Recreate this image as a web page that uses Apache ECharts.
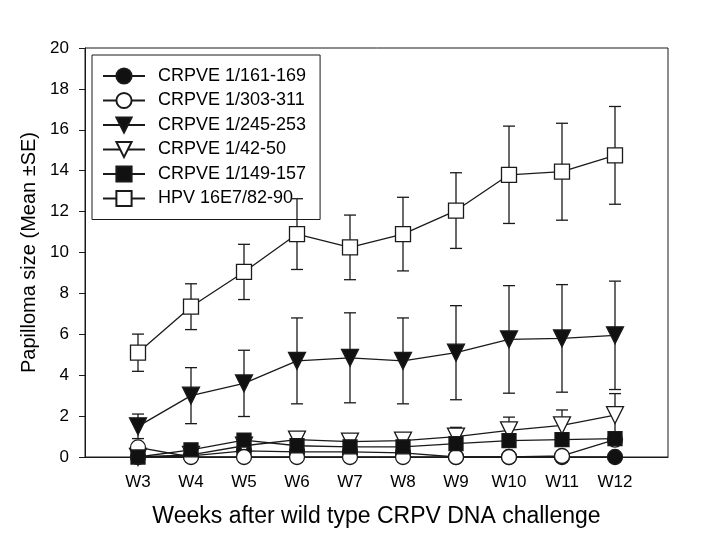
<!DOCTYPE html>
<html>
<head>
<meta charset="UTF-8">
<title>papilloma_size_chart</title>
<script src="https://cdn.jsdelivr.net/npm/echarts@6/dist/echarts.min.js"></script>
</head>
<body style="margin:0">
<div id="mainChart" style="width:702px;height:549px;"></div>
<script>
// weeks after challenge (x = week number)
let weeks = [3, 4, 5, 6, 7, 8, 9, 10, 11, 12]

let crp161 = [0, 0.05, 0.3, 0.25, 0.25, 0.2, 0, 0, 0, 0]
let crp303 = [0.47, 0, 0, 0, 0, 0, 0, 0, 0.05, 0.85]
let crp245 = [1.5, 3.0, 3.6, 4.7, 4.85, 4.7, 5.1, 5.75, 5.8, 5.95]
let crp245Se = [0.6, 1.37, 1.62, 2.1, 2.2, 2.1, 2.3, 2.63, 2.63, 2.65]
let crp42 = [0, 0.1, 0.55, 0.85, 0.75, 0.8, 1.0, 1.3, 1.55, 2.05]
let crp42Se = [0, 0, 0, 0.3, 0.25, 0.25, 0.45, 0.65, 0.75, 1.05]
let crp149 = [0, 0.35, 0.83, 0.55, 0.5, 0.5, 0.65, 0.8, 0.85, 0.9]
let hpv = [5.1, 7.35, 9.05, 10.9, 10.25, 10.9, 12.05, 13.8, 13.95, 14.75]
let hpvSe = [0.91, 1.12, 1.35, 1.73, 1.58, 1.8, 1.85, 2.38, 2.37, 2.39]

let names = ['CRPVE 1/161-169', 'CRPVE 1/303-311', 'CRPVE 1/245-253', 'CRPVE 1/42-50', 'CRPVE 1/149-157', 'HPV 16E7/82-90']

let font = "'Liberation Sans', Arial, sans-serif"

function pairs(vals) {
    return weeks.map((w, i) => [w, vals[i]])
}

function lineSeries(name, vals, symbol, size, fill, z, rotate) {
    return {
        type: 'line',
        name: name,
        data: pairs(vals),
        symbol: symbol,
        symbolSize: size,
        symbolRotate: rotate || 0,
        showAllSymbol: true,
        z: z,
        lineStyle: { color: '#1a1a1a', width: 1.3 },
        itemStyle: { color: fill, borderColor: '#1a1a1a', borderWidth: 1.3 },
        emphasis: { disabled: true },
        animation: false
    }
}

function errSeries(vals, se, z) {
    return {
        type: 'custom',
        z: z,
        silent: true,
        animation: false,
        data: weeks.map((w, i) => [w, vals[i], se[i]]),
        renderItem: function (params, api) {
            let x = api.value(0), m = api.value(1), s = api.value(2)
            if (!s) return null
            let top = api.coord([x, m + s])
            let bot = api.coord([x, m - s])
            let st = { stroke: '#1a1a1a', lineWidth: 1.3 }
            return {
                type: 'group',
                children: [
                    { type: 'line', shape: { x1: top[0], y1: top[1], x2: bot[0], y2: bot[1] }, style: st },
                    { type: 'line', shape: { x1: top[0] - 6, y1: top[1], x2: top[0] + 6, y2: top[1] }, style: st },
                    { type: 'line', shape: { x1: bot[0] - 6, y1: bot[1], x2: bot[0] + 6, y2: bot[1] }, style: st }
                ]
            }
        }
    }
}

let chartsData = {
    animation: false,
    backgroundColor: '#fff',
    grid: {
        left: 85, right: 34, top: 48, bottom: 92,
        show: true, borderColor: '#1a1a1a', borderWidth: 1
    },
    legend: {
        data: names,
        orient: 'vertical',
        left: 92, top: 55,
        padding: [12, 14, 12, 10],
        itemWidth: 42, itemHeight: 19, itemGap: 6.5,
        borderColor: '#1a1a1a', borderWidth: 1,
        selectedMode: false,
        z: 1,
        textStyle: { fontFamily: font, fontSize: 18, color: '#000', padding: [0, 0, 0, 8] }
    },
    xAxis: {
        type: 'value',
        min: 2, max: 13, interval: 1,
        name: 'Weeks after wild type CRPV DNA challenge',
        nameLocation: 'middle',
        nameGap: 48,
        nameTextStyle: { fontFamily: font, fontSize: 23, color: '#000' },
        axisLine: { lineStyle: { color: '#1a1a1a', width: 1 } },
        axisTick: { show: false },
        splitLine: { show: false },
        axisLabel: {
            fontFamily: font, fontSize: 17, color: '#000', margin: 17,
            formatter: v => (v >= 3 && v <= 12 ? 'W' + v : '')
        }
    },
    yAxis: {
        type: 'value',
        min: 0, max: 20, interval: 2,
        name: 'Papilloma size (Mean \u00B1SE)',
        nameLocation: 'middle',
        nameGap: 40,
        nameTextStyle: { fontFamily: font, fontSize: 20, color: '#000' },
        axisLine: { show: true, lineStyle: { color: '#1a1a1a', width: 1 } },
        axisTick: { show: true, inside: false, length: 6, lineStyle: { color: '#1a1a1a' } },
        splitLine: { show: false },
        axisLabel: { fontFamily: font, fontSize: 17, color: '#000', margin: 16 }
    },
    series: [
        lineSeries(names[0], crp161, 'circle', 15, '#111', 3),
        lineSeries(names[1], crp303, 'circle', 15, '#fff', 4.5),
        lineSeries(names[2], crp245, 'triangle', 17, '#111', 8, 180),
        lineSeries(names[3], crp42, 'triangle', 17, '#fff', 4, 180),
        lineSeries(names[4], crp149, 'rect', 14, '#111', 5),
        lineSeries(names[5], hpv, 'rect', 15, '#fff', 10),
        errSeries(crp245, crp245Se, 7),
        errSeries(crp42, crp42Se, 3),
        errSeries(hpv, hpvSe, 9)
    ]
}

let charts = echarts.init(document.querySelector('#mainChart'), null, { renderer: 'canvas' })
charts.setOption(chartsData, true)
</script>
</body>
</html>
